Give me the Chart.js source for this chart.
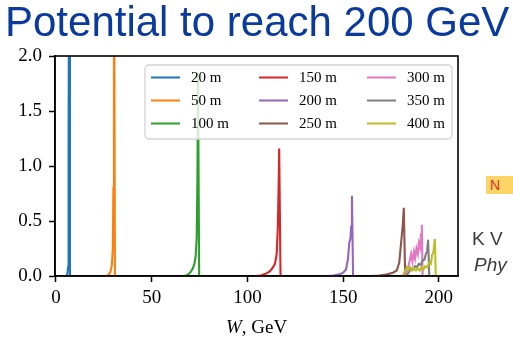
<!DOCTYPE html>
<html>
<head>
<meta charset="utf-8">
<script src="https://cdn.jsdelivr.net/npm/chart.js@4.4.1/dist/chart.umd.min.js"></script>
<style>
  html, body { margin: 0; padding: 0; background: #fff; }
  body { width: 513px; height: 340px; position: relative; overflow: hidden; }
  #plot { position: absolute; left: 0; top: 0; }
  .title { position: absolute; left: 5px; top: 1px; font: 42px "Liberation Sans", Arial, sans-serif; line-height: 42px; color: #0a3a9e; white-space: nowrap; }
  .tag { position: absolute; left: 486px; top: 176px; width: 30px; height: 18px; background: #fcd566; color: #e0321c; font: 14px "Liberation Sans", Arial, sans-serif; line-height: 18px; }
  .ref { position: absolute; left: 472px; color: #3a3a3a; font: 19px "Liberation Sans", Arial, sans-serif; white-space: nowrap; }
</style>
</head>
<body>
<canvas id="plot" width="513" height="340"></canvas>
<div class="title">Potential to reach 200 GeV</div>
<div class="tag">&nbsp;N</div>
<div class="ref" style="top:228px;">K V</div>
<div class="ref" style="top:254px;font-style:italic;left:474px;">Phy</div>
<script>
// Spectra for each distance: W (GeV) and spectral density
const w20  = [5.5, 6.0, 6.3, 6.5, 6.7, 6.9, 7.3, 7.6];
const s20  = [0, 0.02, 0.08, 0.3, 1.2, 3.5, 0, 0];
const w50  = [26, 27.5, 28.5, 29.2, 29.7, 30.0, 30.3, 30.8, 31.5];
const s50  = [0, 0.01, 0.04, 0.1, 0.25, 0.8, 3.5, 0, 0];
const w100 = [66, 68, 69.5, 70.5, 71.5, 72.3, 73, 73.5, 73.9, 74.2, 74.8, 76];
const s100 = [0, 0.005, 0.02, 0.04, 0.07, 0.11, 0.18, 0.35, 0.9, 1.85, 0, 0];
const w150 = [104, 107, 109.5, 111.5, 113, 114.4, 115.3, 115.9, 116.3, 116.6, 117.3, 119];
const s150 = [0, 0.005, 0.02, 0.04, 0.07, 0.11, 0.2, 0.45, 0.8, 1.16, 0, 0];
const w200 = [141, 145, 148, 150, 151.5, 152.5, 153.2, 153.8, 154.2, 154.6, 155.2, 157];
const s200 = [0, 0.005, 0.015, 0.03, 0.06, 0.15, 0.3, 0.34, 0.45, 0.73, 0, 0];
const w250 = [165, 169, 173, 176, 178, 179.3, 180, 180.6, 181.1, 181.7, 182.4, 184];
const s250 = [0, 0.005, 0.015, 0.03, 0.05, 0.12, 0.25, 0.36, 0.45, 0.62, 0, 0];
const w300 = [182, 183, 184, 184.8, 185.5, 186.2, 187, 187.6, 188.3, 189, 189.6, 190.2, 190.7, 191.1, 191.5, 193];
const s300 = [0, 0.03, 0.08, 0.14, 0.2, 0.13, 0.22, 0.16, 0.25, 0.2, 0.3, 0.26, 0.38, 0.465, 0, 0];
const w350 = [183, 184.5, 185.5, 186.5, 187.5, 188.5, 189.5, 190.5, 191.5, 192.5, 193.2, 193.8, 194.4, 195, 196.5];
const s350 = [0, 0.04, 0.07, 0.06, 0.09, 0.08, 0.11, 0.1, 0.14, 0.15, 0.2, 0.22, 0.33, 0, 0];
const w400 = [181, 182.3, 183.2, 184, 185, 186, 187, 188, 189, 190, 191, 192, 193, 194, 195, 195.8, 196.5, 197.2, 197.9, 198.4, 200];
const s400 = [0, 0.04, 0.08, 0.06, 0.08, 0.05, 0.07, 0.05, 0.07, 0.05, 0.08, 0.06, 0.09, 0.08, 0.12, 0.11, 0.19, 0.22, 0.335, 0, 0];

const seriesLabels = ['20 m', '50 m', '100 m', '150 m', '200 m', '250 m', '300 m', '350 m', '400 m'];
const seriesColors = ['#1f77b4', '#ff7f0e', '#2ca02c', '#d62728', '#9467bd', '#8c564b', '#e377c2', '#7f7f7f', '#bcbd22'];
const xTicks = [0, 50, 100, 150, 200];
const yTicks = [0.0, 0.5, 1.0, 1.5, 2.0];

const wSets = [w20, w50, w100, w150, w200, w250, w300, w350, w400];
const sSets = [s20, s50, s100, s150, s200, s250, s300, s350, s400];

const SERIF = '"Liberation Serif", "DejaVu Serif", serif';

const datasets = seriesLabels.map((label, i) => ({
  label,
  data: wSets[i].map((w, k) => ({ x: w, y: sSets[i][k] })),
  borderColor: seriesColors[i],
  backgroundColor: seriesColors[i],
  borderWidth: 2.1,
  pointRadius: 0,
  tension: 0,
  order: seriesLabels.length - 1 - i
}));

// Closed box around the axes plus matplotlib-style legend (3 columns, filled column-first)
const framePlugin = {
  id: 'frame',
  afterDatasetsDraw(chart) {
    const { ctx, chartArea: a } = chart;
    ctx.save();
    ctx.strokeStyle = '#000';
    ctx.lineWidth = 1.6;
    ctx.strokeRect(a.left, a.top, a.right - a.left, a.bottom - a.top);

    // legend
    const bx = 145, by = 65, bw = 307, bh = 74, r = 4;
    ctx.beginPath();
    ctx.moveTo(bx + r, by);
    ctx.arcTo(bx + bw, by, bx + bw, by + bh, r);
    ctx.arcTo(bx + bw, by + bh, bx, by + bh, r);
    ctx.arcTo(bx, by + bh, bx, by, r);
    ctx.arcTo(bx, by, bx + bw, by, r);
    ctx.closePath();
    ctx.fillStyle = 'rgba(255,255,255,0.8)';
    ctx.fill();
    ctx.strokeStyle = '#d3d3d3';
    ctx.lineWidth = 1.3;
    ctx.stroke();

    const colX = [151, 259, 367];
    const rowY = [77.5, 100.5, 123.5];
    ctx.font = '15px ' + SERIF;
    ctx.textBaseline = 'middle';
    ctx.textAlign = 'left';
    chart.data.datasets.forEach((ds, i) => {
      const c = Math.floor(i / 3), rr = i % 3;
      const x = colX[c], y = rowY[rr];
      ctx.strokeStyle = ds.borderColor;
      ctx.lineWidth = 2;
      ctx.beginPath();
      ctx.moveTo(x, y);
      ctx.lineTo(x + 29, y);
      ctx.stroke();
      ctx.fillStyle = '#000';
      ctx.fillText(ds.label, x + 40, y + 1);
    });

    // x axis title: italic W, then ", GeV"
    ctx.font = 'italic 19px ' + SERIF;
    const wW = ctx.measureText('W').width;
    ctx.font = '19px ' + SERIF;
    const wRest = ctx.measureText(', GeV').width;
    const cx = (a.left + a.right) / 2;
    const x0 = cx - (wW + wRest) / 2;
    ctx.textBaseline = 'alphabetic';
    ctx.fillStyle = '#000';
    ctx.font = 'italic 19px ' + SERIF;
    ctx.fillText('W', x0, 333);
    ctx.font = '19px ' + SERIF;
    ctx.fillText(', GeV', x0 + wW, 333);
    ctx.restore();
  }
};

new Chart(document.getElementById('plot'), {
  type: 'line',
  data: { datasets },
  options: {
    responsive: false,
    animation: false,
    devicePixelRatio: 1,
    layout: { padding: { left: 0, top: 56, right: 55, bottom: 0 } },
    plugins: { legend: { display: false }, tooltip: { enabled: false } },
    scales: {
      x: {
        type: 'linear',
        min: -0.5,
        max: 210,
        afterFit(s) { s.height = 64; },
        afterBuildTicks(s) { s.ticks = xTicks.map(v => ({ value: v })); },
        grid: { drawOnChartArea: false, drawTicks: true, tickLength: 6, tickWidth: 1.5, tickColor: '#000' },
        border: { display: true, color: '#000', width: 1.6 },
        ticks: { color: '#000', font: { family: SERIF, size: 19 }, padding: 5, maxRotation: 0, callback: v => String(v) }
      },
      y: {
        min: 0,
        max: 2,
        afterFit(s) { s.width = 55; },
        afterBuildTicks(s) { s.ticks = yTicks.map(v => ({ value: v })); },
        grid: { drawOnChartArea: false, drawTicks: true, tickLength: 6, tickWidth: 1.5, tickColor: '#000' },
        border: { display: true, color: '#000', width: 1.6 },
        ticks: { color: '#000', font: { family: SERIF, size: 19 }, padding: 7, callback: v => Number(v).toFixed(1) }
      }
    }
  },
  plugins: [framePlugin]
});
</script>
</body>
</html>
